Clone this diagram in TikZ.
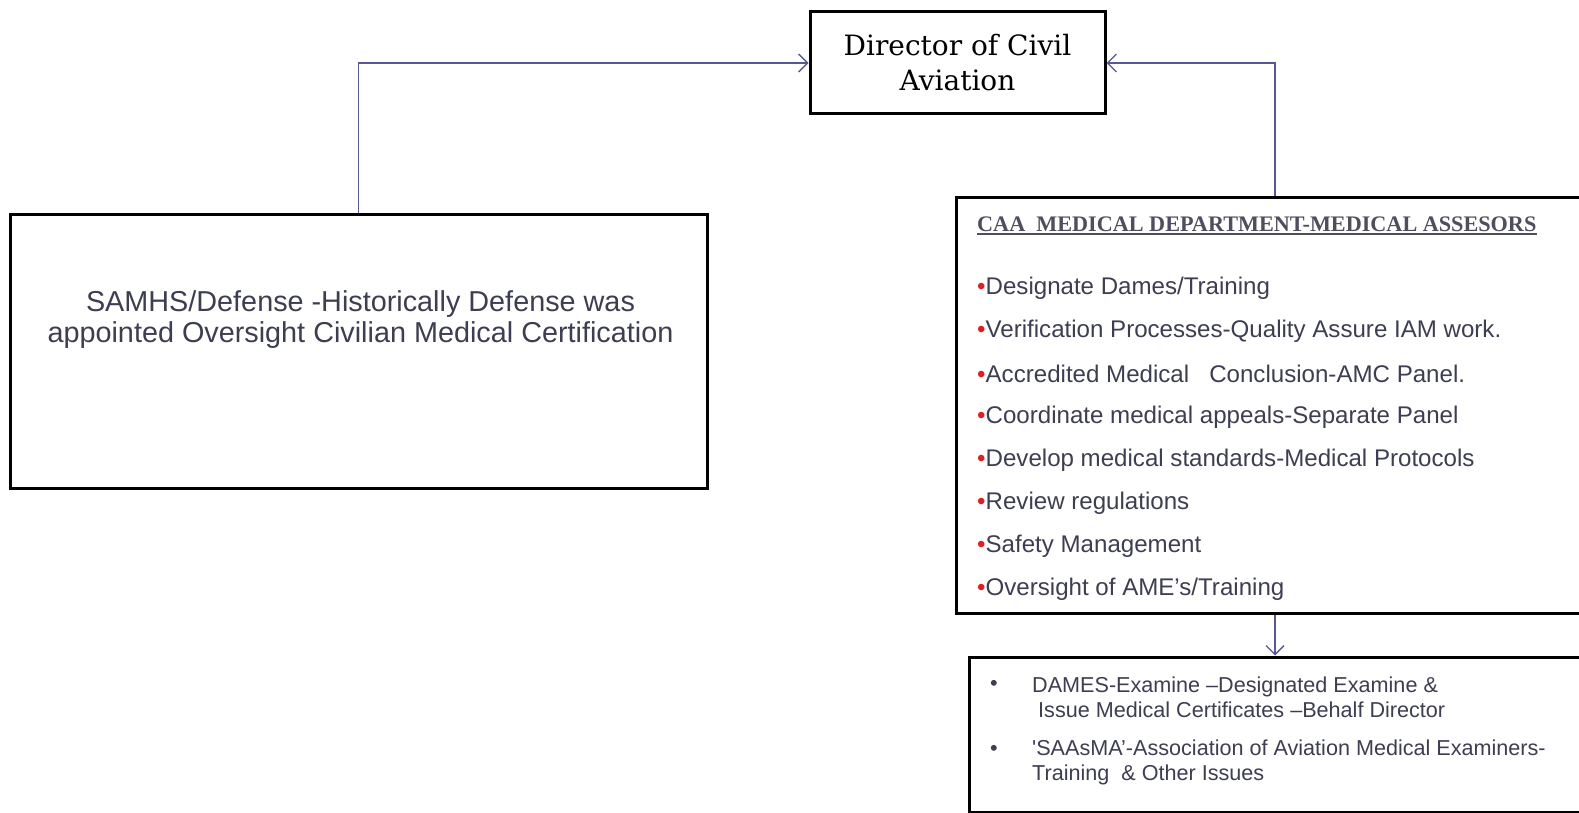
\documentclass[tikz,border=0pt]{standalone}
\usepackage{fontspec}
\setmainfont{Liberation Sans}
\newfontfamily\dirfont{DejaVu Serif}
\newfontfamily\headfont{Liberation Serif}
\usetikzlibrary{positioning}
\usetikzlibrary{arrows.meta}

\definecolor{txtgray}{RGB}{62,62,82}
\definecolor{headgray}{RGB}{78,78,94}
\definecolor{linkblue}{RGB}{88,88,152}
\definecolor{dotred}{RGB}{222,32,32}

\tikzset{
  box/.style={draw=black, line width=3pt, fill=white},
  link/.style={draw=linkblue, line width=1.3pt,
    -{Straight Barb[length=9pt,width=18pt,line width=1.3pt]}},
  duty/.style={anchor=west, inner sep=0pt, text=txtgray,
    font=\fontsize{24.1}{26}\selectfont},
  examitem/.style={anchor=west, inner sep=0pt, text=txtgray, align=left,
    font=\fontsize{21.6}{25}\selectfont},
}

\begin{document}
\begin{tikzpicture}[x=1pt,y=-1pt]
  \useasboundingbox (0,0) rectangle (1579,813);
  \clip (0,0) rectangle (1579,813);
  \fill[white] (0,0) rectangle (1579,813);

  % boxes
  \node[box, minimum width=295pt, minimum height=102pt, align=center,
    font=\dirfont\fontsize{28}{35}\selectfont] (dca) at (957.5,63) {Director of Civil\\Aviation};
  \node[box, minimum width=697pt, minimum height=273pt] (sam) at (358.5,351.5) {};
  \node[box, minimum width=638pt, minimum height=415pt] (mdept) at (1275,405.5) {};
  \node[box, minimum width=631pt, minimum height=155pt] (exam) at (1284.5,734.5) {};

  % left text
  \node[align=center, text=txtgray, inner sep=0pt,
    font=\fontsize{28.8}{31}\selectfont] (samtxt) at (360.5,320)
    {SAMHS/Defense -Historically Defense was\\appointed Oversight Civilian Medical Certification};

  % heading and duties
  \node[anchor=base west, inner sep=0pt, text=headgray,
    font=\headfont\bfseries\fontsize{22.2}{24}\selectfont] (head) at (977,231)
    {CAA\ \ MEDICAL DEPARTMENT-MEDICAL ASSESORS};
  \draw[headgray, line width=1.5pt] ([yshift=-3pt]head.base west) -- ([yshift=-3pt]head.base east);
  \foreach \txt [count=\i] in {Designate Dames/Training,
      Verification Processes-Quality Assure IAM work.,
      Accredited Medical\ \ \ Conclusion-AMC Panel.,
      Coordinate medical appeals-Separate Panel,
      Develop medical standards-Medical Protocols,
      Review regulations,
      Safety Management,
      Oversight of AME’s/Training}
    \node[duty] (duty\i) at (977,245+43*\i) {\textcolor{dotred}{\textbullet}\txt};

  % examiners
  \node[examitem] (dot1) at (990,685) {\textbullet};
  \node[examitem] (dames) at (1032,697.5)
    {DAMES-Examine –Designated Examine \&\\\ Issue Medical Certificates –Behalf Director};
  \node[examitem] (dot2) at (990,750) {\textbullet};
  \node[examitem] (saasma) at (1032,762.5)
    {\textquotesingle SAAsMA’-Association of Aviation Medical Examiners-\\Training\ \ \& Other Issues};

  % connectors
  \draw[link] (sam.north) |- (dca.west);
  \draw[link] (mdept.north) |- (dca.east);
  \draw[link] (mdept.south) -- (mdept.south |- exam.north);
\end{tikzpicture}
\end{document}
